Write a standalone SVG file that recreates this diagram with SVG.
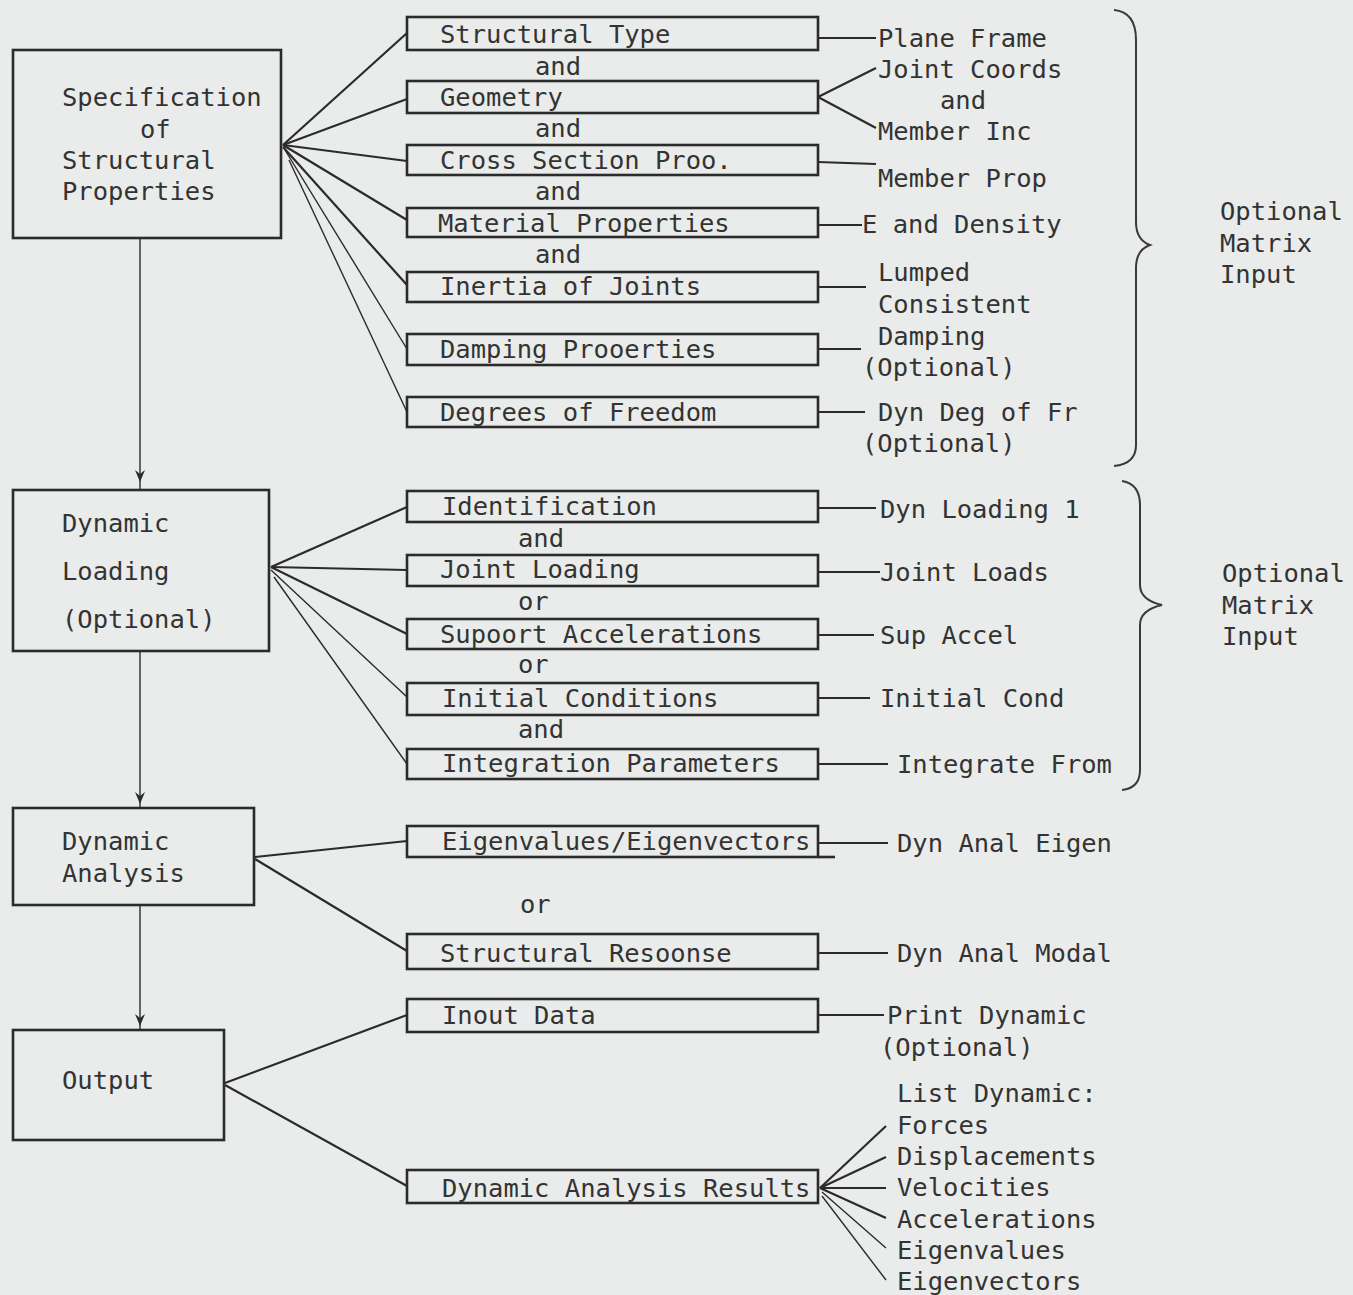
<svg xmlns="http://www.w3.org/2000/svg" width="1353" height="1295" viewBox="0 0 1353 1295">
<defs>
<style>
.bg{fill:#e9ecea}
.box{fill:none;stroke:#2b2b2b;stroke-width:2.6}
.ln{fill:none;stroke:#2b2b2b;stroke-width:2.2}
.thin{fill:none;stroke:#2b2b2b;stroke-width:1.4}
.br{fill:none;stroke:#3a3a3a;stroke-width:2}
text{font-family:"DejaVu Sans Mono","Liberation Mono",monospace;font-size:25.5px;fill:#333}
</style>
<marker id="av" viewBox="0 0 12 10" refX="6" refY="5" markerWidth="12" markerHeight="10" markerUnits="userSpaceOnUse" orient="auto">
<path d="M0,0 L12,5 L0,10 L4,5 Z" fill="#2b2b2b"/>
</marker>
</defs>
<rect class="bg" x="0" y="0" width="1353" height="1295"/>

<g id="connectors">
<polyline class="thin" points="140,238 140,476 140,490" marker-mid="url(#av)"/>
<polyline class="thin" points="140,651 140,798 140,808" marker-mid="url(#av)"/>
<polyline class="thin" points="140,905 140,1020 140,1030" marker-mid="url(#av)"/>
<line class="ln" x1="283" y1="145" x2="407" y2="33"/>
<line class="ln" x1="283" y1="145" x2="407" y2="99"/>
<line class="ln" x1="283" y1="145" x2="407" y2="161"/>
<line class="ln" x1="283" y1="145" x2="407" y2="220"/>
<line class="ln" x1="283" y1="147" x2="407" y2="285"/>
<line class="thin" x1="285" y1="150" x2="407" y2="349"/>
<line class="thin" x1="289" y1="160" x2="407" y2="412"/>
<line class="ln" x1="271" y1="567" x2="407" y2="507"/>
<line class="ln" x1="271" y1="567" x2="407" y2="570"/>
<line class="ln" x1="271" y1="567" x2="407" y2="634"/>
<line class="thin" x1="271" y1="570" x2="407" y2="697"/>
<line class="thin" x1="274" y1="577" x2="407" y2="764"/>
<line class="ln" x1="255" y1="857" x2="407" y2="841"/>
<line class="ln" x1="255" y1="859" x2="407" y2="951"/>
<line class="ln" x1="225" y1="1083" x2="407" y2="1015"/>
<line class="ln" x1="225" y1="1085" x2="407" y2="1186"/>
<line class="ln" x1="818" y1="38" x2="876" y2="38"/>
<line class="ln" x1="818" y1="97" x2="876" y2="68"/>
<line class="ln" x1="818" y1="97" x2="876" y2="128"/>
<line class="ln" x1="818" y1="162" x2="876" y2="164"/>
<line class="ln" x1="818" y1="225" x2="862" y2="225"/>
<line class="ln" x1="818" y1="287" x2="866" y2="287"/>
<line class="ln" x1="818" y1="349" x2="861" y2="349"/>
<line class="ln" x1="818" y1="412" x2="865" y2="412"/>
<line class="ln" x1="818" y1="508" x2="876" y2="508"/>
<line class="ln" x1="818" y1="572" x2="880" y2="572"/>
<line class="ln" x1="818" y1="635" x2="874" y2="635"/>
<line class="ln" x1="818" y1="698" x2="870" y2="698"/>
<line class="ln" x1="818" y1="764" x2="888" y2="764"/>
<line class="ln" x1="818" y1="843" x2="888" y2="843"/>
<line class="ln" x1="818" y1="953" x2="888" y2="953"/>
<line class="ln" x1="818" y1="1015" x2="884" y2="1015"/>
<line class="ln" x1="820" y1="1188" x2="886" y2="1126"/>
<line class="ln" x1="820" y1="1188" x2="886" y2="1157"/>
<line class="ln" x1="820" y1="1188" x2="886" y2="1188"/>
<line class="ln" x1="820" y1="1188" x2="886" y2="1218"/>
<line class="thin" x1="822" y1="1192" x2="886" y2="1248"/>
<line class="thin" x1="822" y1="1196" x2="886" y2="1280"/>
<path class="br" d="M1114,10 Q1136,12 1136,40 L1136,222 Q1136,240 1150,245 Q1136,250 1136,268 L1136,445 Q1136,464 1114,466"/>
<path class="br" d="M1122,481 Q1140,484 1140,505 L1140,585 Q1140,600 1162,605 Q1140,610 1140,625 L1140,770 Q1140,788 1122,790"/>
</g>

<g id="n-spec"><rect class="box" x="13" y="50" width="268" height="188"/>
<text x="62" y="106">Specification</text><text x="140" y="138">of</text><text x="62" y="169">Structural</text><text x="62" y="200">Properties</text></g>
<g id="n-load"><rect class="box" x="13" y="490" width="256" height="161"/>
<text x="62" y="532">Dynamic</text><text x="62" y="580">Loading</text><text x="62" y="628">(Optional)</text></g>
<g id="n-anal"><rect class="box" x="13" y="808" width="241" height="97"/>
<text x="62" y="850">Dynamic</text><text x="62" y="882">Analysis</text></g>
<g id="n-out"><rect class="box" x="13" y="1030" width="211" height="110"/>
<text x="62" y="1089">Output</text></g>

<g id="n-type"><rect class="box" x="407" y="17" width="411" height="33"/><text x="440" y="43">Structural Type</text></g>
<g id="t-and1"><text x="535" y="75">and</text></g>
<g id="n-geom"><rect class="box" x="407" y="81" width="411" height="32"/><text x="440" y="106">Geometry</text></g>
<g id="t-and2"><text x="535" y="137">and</text></g>
<g id="n-cross"><rect class="box" x="407" y="145" width="411" height="30"/><text x="440" y="169">Cross Section Proo.</text></g>
<g id="t-and3"><text x="535" y="200">and</text></g>
<g id="n-mat"><rect class="box" x="407" y="208" width="411" height="29"/><text x="438" y="232">Material Properties</text></g>
<g id="t-and4"><text x="535" y="263">and</text></g>
<g id="n-inert"><rect class="box" x="407" y="272" width="411" height="30"/><text x="440" y="295">Inertia of Joints</text></g>
<g id="n-damp"><rect class="box" x="407" y="334" width="411" height="31"/><text x="440" y="358">Damping Prooerties</text></g>
<g id="n-dof"><rect class="box" x="407" y="397" width="411" height="30"/><text x="440" y="421">Degrees of Freedom</text></g>

<g id="n-ident"><rect class="box" x="407" y="491" width="411" height="31"/><text x="442" y="515">Identification</text></g>
<g id="t-and5"><text x="518" y="547">and</text></g>
<g id="n-jl"><rect class="box" x="407" y="555" width="411" height="31"/><text x="440" y="578">Joint Loading</text></g>
<g id="t-or1"><text x="518" y="610">or</text></g>
<g id="n-sup"><rect class="box" x="407" y="619" width="411" height="30"/><text x="440" y="643">Supoort Accelerations</text></g>
<g id="t-or2"><text x="518" y="673">or</text></g>
<g id="n-init"><rect class="box" x="407" y="683" width="411" height="32"/><text x="442" y="707">Initial Conditions</text></g>
<g id="t-and6"><text x="518" y="738">and</text></g>
<g id="n-integ"><rect class="box" x="407" y="749" width="411" height="30"/><text x="442" y="772">Integration Parameters</text></g>

<g id="n-eig"><rect class="box" x="407" y="826" width="411" height="31"/><line class="box" x1="818" y1="857" x2="835" y2="857"/><text x="442" y="850">Eigenvalues/Eigenvectors</text></g>
<g id="t-or3"><text x="520" y="913">or</text></g>
<g id="n-resp"><rect class="box" x="407" y="934" width="411" height="35"/><text x="440" y="962">Structural Resoonse</text></g>
<g id="n-inp"><rect class="box" x="407" y="999" width="411" height="33"/><text x="442" y="1024">Inout Data</text></g>
<g id="n-res"><rect class="box" x="407" y="1170" width="411" height="33"/><text x="442" y="1197">Dynamic Analysis Results</text></g>

<g id="labels-right">
<text x="878" y="47">Plane Frame</text>
<text x="878" y="78">Joint Coords</text>
<text x="940" y="109">and</text>
<text x="878" y="140">Member Inc</text>
<text x="878" y="187">Member Prop</text>
<text x="862" y="233">E and Density</text>
<text x="878" y="281">Lumped</text>
<text x="878" y="313">Consistent</text>
<text x="878" y="345">Damping</text>
<text x="862" y="376">(Optional)</text>
<text x="878" y="421">Dyn Deg of Fr</text>
<text x="862" y="452">(Optional)</text>
<text x="1220" y="220">Optional</text>
<text x="1220" y="252">Matrix</text>
<text x="1220" y="283">Input</text>
<text x="880" y="518">Dyn Loading 1</text>
<text x="880" y="581">Joint Loads</text>
<text x="880" y="644">Sup Accel</text>
<text x="880" y="707">Initial Cond</text>
<text x="897" y="773">Integrate From</text>
<text x="1222" y="582">Optional</text>
<text x="1222" y="614">Matrix</text>
<text x="1222" y="645">Input</text>
<text x="897" y="852">Dyn Anal Eigen</text>
<text x="897" y="962">Dyn Anal Modal</text>
<text x="887" y="1024">Print Dynamic</text>
<text x="880" y="1056">(Optional)</text>
<text x="897" y="1102">List Dynamic:</text>
<text x="897" y="1134">Forces</text>
<text x="897" y="1165">Displacements</text>
<text x="897" y="1196">Velocities</text>
<text x="897" y="1228">Accelerations</text>
<text x="897" y="1259">Eigenvalues</text>
<text x="897" y="1290">Eigenvectors</text>
</g>
</svg>
